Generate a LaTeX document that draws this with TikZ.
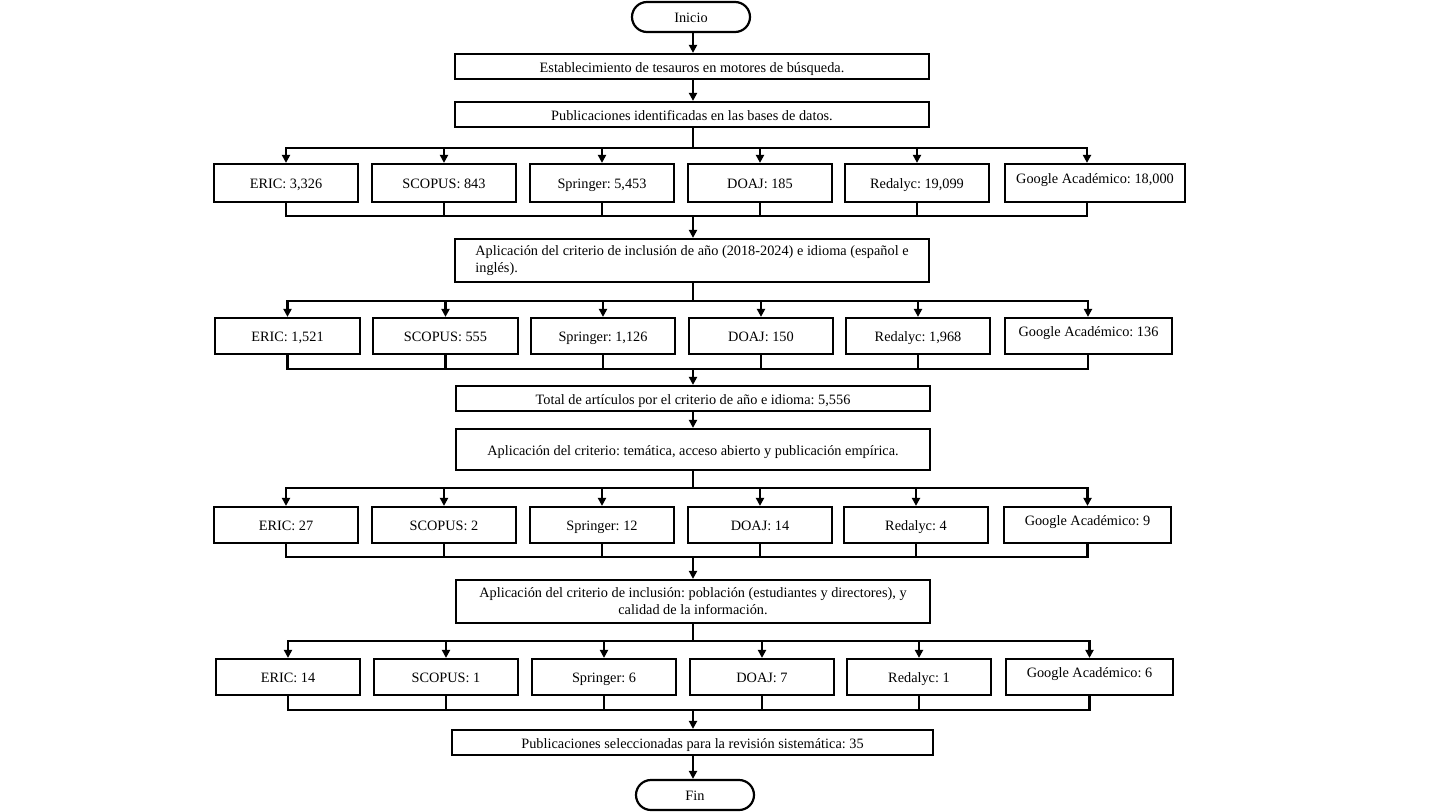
\documentclass[tikz,border=0pt]{standalone}
\usepackage{fontspec}
\setmainfont{Liberation Serif}
\frenchspacing
\usetikzlibrary{arrows.meta}
\tikzset{
  box/.style={draw=black, line width=2.2pt, rectangle, inner sep=0pt, font=\fontsize{14.3}{17}\selectfont},
  one/.style={text height=12pt, text depth=1pt},
  term/.style={box, one, rounded corners=15pt},
  ln/.style={draw=black, line width=2.2pt},
  arr/.style={ln, -{Triangle[length=8pt,width=8pt]}},
  gtop/.style={text height=10pt, text depth=10pt}
}
\newcommand\bx[7][one]{\node[box,#1,minimum width={#5-#3},minimum height={#6-#4}] (#2) at ({(#3+#5)/2},{(#4+#6)/2}) {#7};}
\begin{document}
\begin{tikzpicture}[x=1pt,y=-1pt]
\path[use as bounding box] (0,0) rectangle (1437,811);
% main column
\node[term,minimum width=118,minimum height=30] (ini) at (691,17) {Inicio};
\bx{b1}{455}{54}{929}{79}{Establecimiento de tesauros en motores de búsqueda.}
\bx{b2}{455}{102}{929}{127}{Publicaciones identificadas en las bases de datos.}
\bx[align=left]{b3}{455}{239}{929}{282}{Aplicación del criterio de inclusión de año (2018-2024) e idioma (español e\\inglés).}
\bx{b4}{456}{386}{930}{411}{Total de artículos por el criterio de año e idioma: 5,556}
\bx{b5}{456}{429}{930}{470}{Aplicación del criterio: temática, acceso abierto y publicación empírica.}
\bx[align=center]{b6}{456}{580}{930}{623}{Aplicación del criterio de inclusión: población (estudiantes y directores), y\\calidad de la información.}
\bx{b7}{452}{730}{933}{755}{Publicaciones seleccionadas para la revisión sistemática: 35}
\node[term,minimum width=118,minimum height=30] (fin) at (695,795) {Fin};
% row 1
\bx{a1}{214}{164}{358}{202}{ERIC: 3,326}
\bx{a2}{372}{164}{516}{202}{SCOPUS: 843}
\bx{a3}{530}{164}{674}{202}{Springer: 5,453}
\bx{a4}{688}{164}{832}{202}{DOAJ: 185}
\bx{a5}{845}{164}{989}{202}{Redalyc: 19,099}
\bx[gtop]{a6}{1005}{164}{1185}{202}{Google Académico: 18,000}
% row 2
\bx{c1}{215}{318}{360}{354}{ERIC: 1,521}
\bx{c2}{373}{318}{518}{354}{SCOPUS: 555}
\bx{c3}{531}{318}{675}{354}{Springer: 1,126}
\bx{c4}{689}{318}{833}{354}{DOAJ: 150}
\bx{c5}{846}{318}{990}{354}{Redalyc: 1,968}
\bx[gtop]{c6}{1005}{318}{1172}{354}{Google Académico: 136}
% row 3
\bx{d1}{214}{507}{358}{543}{ERIC: 27}
\bx{d2}{372}{507}{516}{543}{SCOPUS: 2}
\bx{d3}{530}{507}{674}{543}{Springer: 12}
\bx{d4}{688}{507}{832}{543}{DOAJ: 14}
\bx{d5}{844}{507}{988}{543}{Redalyc: 4}
\bx[gtop]{d6}{1004}{507}{1171}{543}{Google Académico: 9}
% row 4
\bx{e1}{216}{659}{360}{695}{ERIC: 14}
\bx{e2}{374}{659}{518}{695}{SCOPUS: 1}
\bx{e3}{532}{659}{676}{695}{Springer: 6}
\bx{e4}{690}{659}{834}{695}{DOAJ: 7}
\bx{e5}{847}{659}{991}{695}{Redalyc: 1}
\bx[gtop]{e6}{1006}{659}{1173}{695}{Google Académico: 6}
% junctions
\coordinate (gx) at (1087,0);
\coordinate (gx2) at (1088,0);
\coordinate (j1) at (693,148);
\coordinate (m1) at (693,216);
\coordinate (j2) at (693,301);
\coordinate (m2) at (693,369);
\coordinate (j3) at (693,488);
\coordinate (m3) at (693,557);
\coordinate (j4) at (693,641);
\coordinate (m4) at (693,710);
% connectors
\draw[arr] (ini.south -| j1) -- (b1.north -| j1);
\draw[arr] (b1.south -| j1) -- (b2.north -| j1);
\draw[ln] (b2.south -| j1) -- (j1);
\foreach \n in {a1,a2,a3,a4,a5}{\draw[arr] (j1) -| (\n.north);}
\draw[arr] (j1) -| (a6.north -| gx);
\foreach \n in {a1,a2,a3,a4,a5}{\draw[ln] (\n.south) |- (m1);}
\draw[ln] (a6.south -| gx) |- (m1);
\draw[arr] (m1) -- (b3.north -| m1);
\draw[ln] (b3.south -| j2) -- (j2);
\foreach \n in {c1,c2,c3,c4,c5}{\draw[arr] (j2) -| (\n.north);}
\draw[arr] (j2) -| (c6.north -| gx2);
\foreach \n in {c1,c2,c3,c4,c5}{\draw[ln] (\n.south) |- (m2);}
\draw[ln] (c6.south -| gx2) |- (m2);
\draw[arr] (m2) -- (b4.north -| m2);
\draw[arr] (b4.south -| m2) -- (b5.north -| m2);
\draw[ln] (b5.south -| j3) -- (j3);
\foreach \n in {d1,d2,d3,d4,d5,d6}{\draw[arr] (j3) -| (\n.north);}
\foreach \n in {d1,d2,d3,d4,d5,d6}{\draw[ln] (\n.south) |- (m3);}
\draw[arr] (m3) -- (b6.north -| m3);
\draw[ln] (b6.south -| j4) -- (j4);
\foreach \n in {e1,e2,e3,e4,e5,e6}{\draw[arr] (j4) -| (\n.north);}
\foreach \n in {e1,e2,e3,e4,e5,e6}{\draw[ln] (\n.south) |- (m4);}
\draw[arr] (m4) -- (b7.north -| m4);
\draw[arr] (b7.south -| m4) -- (fin.north -| m4);
\end{tikzpicture}
\end{document}
